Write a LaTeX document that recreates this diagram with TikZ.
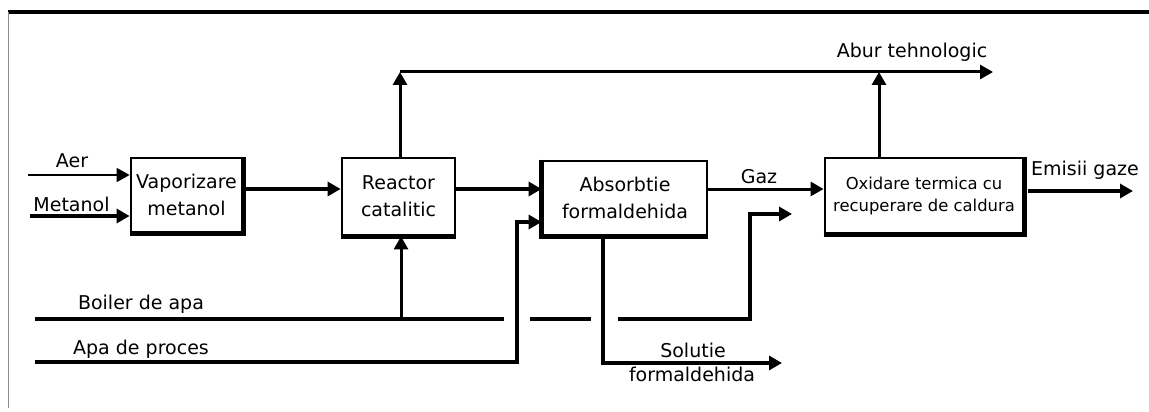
\documentclass[tikz,border=0pt]{standalone}
\usepackage{fontspec}
\setmainfont{DejaVu Sans}
\usetikzlibrary{arrows.meta}
\begin{document}
\begin{tikzpicture}[x=1pt,y=-1pt,
  proc/.style={draw, line width=2.8pt, inner sep=0pt, align=center,
    font=\fontsize{19}{27}\selectfont},
  lbl/.style={inner sep=0pt, font=\fontsize{19}{24}\selectfont},
  base/.style={line width=5pt},
  flow/.style={line width=4.5pt, -{Triangle[length=13pt,width=14pt]}},
  medflow/.style={line width=3pt, -{Triangle[length=13pt,width=14pt]}},
  thinflow/.style={line width=1.8pt, -{Triangle[length=13pt,width=14pt]}},
  pipe/.style={line width=4.5pt}]
\useasboundingbox (0,0) rectangle (1149,412);
% frame
\draw[line width=4pt] (8,12) -- (1149,12);
\draw[line width=1.6pt, black!45] (8.5,12) -- (8.5,408);
% boxes
\node[proc, minimum width=111pt, minimum height=74pt] (vap) at (186.5,195) {Vaporizare\\metanol};
\node[proc, minimum width=113pt, minimum height=77pt] (reac) at (398.5,196.5) {Reactor\\catalitic};
\node[proc, minimum width=164pt, minimum height=74pt] (abs) at (625,198) {Absorbtie\\formaldehida};
\node[proc, minimum width=198pt, minimum height=75pt, font=\fontsize{16.4}{22}\selectfont] (oxi) at (924,195.5) {Oxidare termica cu\\recuperare de caldura};
% thicker lower edges
\draw[base] (vap.south west) -- (vap.south east) -- (vap.north east);
\draw[base] (reac.south west) -- (reac.south east);
\draw[base] (abs.north west) -- (abs.south west) -- (abs.south east);
\draw[base] (oxi.south west) -- (oxi.south east) -- (oxi.north east);
% labels
\node[lbl] (laer) at (72,161) {Aer};
\node[lbl] (lmet) at (71.5,204) {Metanol};
\node[lbl] (lgaz) at (759,177) {Gaz};
\node[lbl] (lemi) at (1085,170) {Emisii gaze};
\node[lbl] (labur) at (912,52) {Abur tehnologic};
\node[lbl] (lboil) at (141,304) {Boiler de apa};
\node[lbl] (lapa) at (141,349) {Apa de proces};
\node[lbl] (lsol) at (693,350) {Solutie};
\node[lbl] (lform) at (692,374) {formaldehida};
% coordinates
\coordinate (aerS) at (28,175);
\coordinate (metS) at (30,216);
\coordinate (topL) at (400,72);
\coordinate (topR) at (993,72);
\coordinate (oxiT) at (879,72);
\coordinate (emiS) at (1028,191);
\coordinate (emiE) at (1133,191);
\coordinate (boilS) at (35,319);
\coordinate (boilA) at (504,319);
\coordinate (boilB) at (530,319);
\coordinate (boilC) at (591,319);
\coordinate (boilD) at (618,319);
\coordinate (boilE) at (750,319);
\coordinate (boilF) at (750,214);
\coordinate (boilG) at (792,214);
\coordinate (boilR) at (401,319);
\coordinate (apaS) at (35,362);
\coordinate (apaC) at (517,362);
\coordinate (apaT) at (517,222);
\coordinate (solB) at (603,363);
\coordinate (solE) at (782,363);
% connectors
\draw[thinflow] (aerS) -- (aerS -| vap.west);
\draw[flow] (metS) -- (metS -| vap.west);
\draw[flow] (vap.east |- 0,189) -- (reac.west |- 0,189);
\draw[flow] (reac.east |- 0,189) -- (abs.west |- 0,189);
\draw[medflow] (abs.east |- 0,189) -- (oxi.west |- 0,189);
\draw[flow] (emiS) -- (emiE);
\draw[medflow] (reac.north -| topL) -- (topL);
\draw[medflow] (topL) -- (topR);
\draw[medflow] (oxi.north -| oxiT) -- (oxiT);
\draw[pipe] (boilS) -- (boilA);
\draw[pipe] (boilB) -- (boilC);
\draw[flow] (boilD) -- (boilE) -- (boilF) -- (boilG);
\draw[medflow] (boilR) -- (reac.south -| boilR);
\draw[flow] (apaS) -- (apaC) -- (apaT) -- (apaT -| abs.west);
\draw[flow] (abs.south -| solB) -- (solB) -- (solE);
\end{tikzpicture}
\end{document}
